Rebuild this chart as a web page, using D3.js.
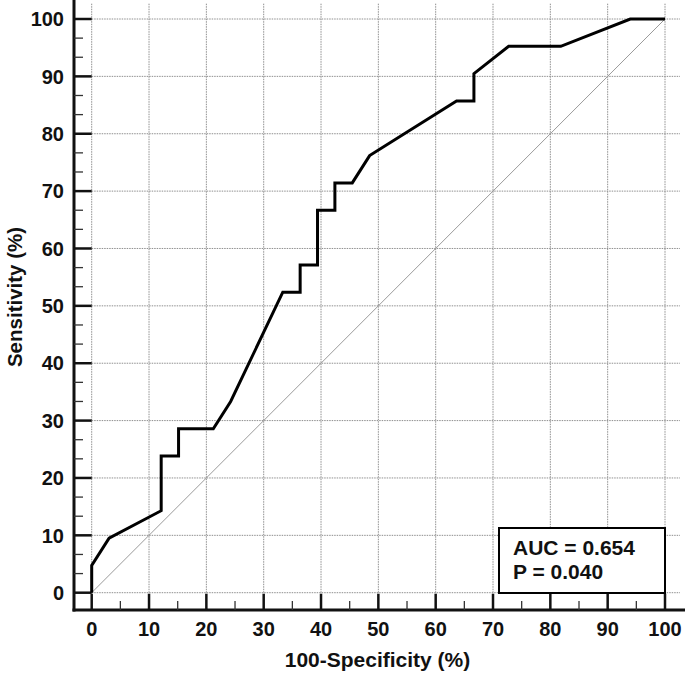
<!DOCTYPE html>
<html><head><meta charset="utf-8">
<script src="https://cdn.jsdelivr.net/npm/d3@7"></script>
<style>
html,body{margin:0;padding:0;background:#fff;}
svg text{font-family:"Liberation Sans",Arial,sans-serif;font-weight:bold;fill:#111;}
</style></head>
<body>
<svg id="c" width="685" height="674"></svg>
<script>
// ROC curve points: 100-Specificity (%) and Sensitivity (%)
const fpr = [0, 0, 3.03, 12.12, 12.12, 15.15, 15.15, 21.21, 24.24, 33.33, 36.36, 36.36, 39.39, 39.39, 42.42, 42.42, 45.45, 48.48, 63.64, 66.67, 66.67, 72.73, 81.82, 93.94, 100];
const tpr = [0, 4.76, 9.52, 14.29, 23.81, 23.81, 28.57, 28.57, 33.33, 52.38, 52.38, 57.14, 57.14, 66.67, 66.67, 71.43, 71.43, 76.19, 85.71, 85.71, 90.48, 95.24, 95.24, 100, 100];
const xTicks = [0, 10, 20, 30, 40, 50, 60, 70, 80, 90, 100];
const yTicks = [0, 10, 20, 30, 40, 50, 60, 70, 80, 90, 100];
const xTitle = "100-Specificity (%)";
const yTitle = "Sensitivity (%)";
const statLines = ["AUC = 0.654", "P = 0.040"];

const svg = d3.select("#c");
const x = d3.scaleLinear().domain([0, 100]).range([91.7, 665]);
const y = d3.scaleLinear().domain([0, 100]).range([592.7, 19]);
const xMaxPx = 680, yMinPx = 3;
const axisX = 74, axisY = 610;

// grid
const g = svg.append("g");
yTicks.forEach(v => g.append("line")
  .attr("x1", x(0)).attr("x2", xMaxPx).attr("y1", y(v)).attr("y2", y(v))
  .attr("stroke", "#8f8f8f").attr("stroke-width", 1).attr("stroke-dasharray", "1.5,1"));
xTicks.forEach(v => g.append("line")
  .attr("x1", x(v)).attr("x2", x(v)).attr("y1", y(0)).attr("y2", yMinPx)
  .attr("stroke", "#8f8f8f").attr("stroke-width", 1).attr("stroke-dasharray", "1.5,1"));

// diagonal
svg.append("line").attr("x1", x(0)).attr("y1", y(0)).attr("x2", x(100)).attr("y2", y(100))
  .attr("stroke", "#9a9a9a").attr("stroke-width", 1);

// axes lines
svg.append("line").attr("x1", axisX).attr("x2", axisX).attr("y1", 0).attr("y2", axisY + 1.5)
  .attr("stroke", "#111").attr("stroke-width", 3);
svg.append("line").attr("x1", axisX - 1.5).attr("x2", 685).attr("y1", axisY).attr("y2", axisY)
  .attr("stroke", "#111").attr("stroke-width", 3);

// y ticks
yTicks.forEach(v => {
  svg.append("line").attr("x1", axisX).attr("x2", x(0)).attr("y1", y(v)).attr("y2", y(v))
    .attr("stroke", "#111").attr("stroke-width", 2.5);
  svg.append("text").attr("x", 64).attr("y", y(v)).attr("dy", "0.36em")
    .attr("text-anchor", "end").attr("font-size", 20).text(v);
});
d3.range(0, 100.01, 10 / 3).forEach(v => {
  if (Math.abs(v / 10 - Math.round(v / 10)) < 1e-6) return;
  svg.append("line").attr("x1", axisX).attr("x2", axisX + 9).attr("y1", y(v)).attr("y2", y(v))
    .attr("stroke", "#333").attr("stroke-width", 1.3);
});
// x ticks
xTicks.forEach(v => {
  svg.append("line").attr("x1", x(v)).attr("x2", x(v)).attr("y1", axisY).attr("y2", y(0) + 1)
    .attr("stroke", "#111").attr("stroke-width", 2.5);
  svg.append("text").attr("x", x(v)).attr("y", 636)
    .attr("text-anchor", "middle").attr("font-size", 20).text(v);
});
d3.range(5, 100, 10).forEach(v => {
  svg.append("line").attr("x1", x(v)).attr("x2", x(v)).attr("y1", axisY).attr("y2", axisY - 9)
    .attr("stroke", "#333").attr("stroke-width", 1.3);
});

// titles
svg.append("text").attr("x", 377.5).attr("y", 667).attr("text-anchor", "middle")
  .attr("font-size", 21).text(xTitle);
svg.append("text").attr("transform", "translate(22,297) rotate(-90)").attr("text-anchor", "middle")
  .attr("font-size", 20.5).text(yTitle);

// ROC curve
const pts = fpr.map((v, i) => [v, tpr[i]]);
svg.append("path").datum(pts)
  .attr("d", d3.line().x(d => x(d[0])).y(d => y(d[1])))
  .attr("fill", "none").attr("stroke", "#000").attr("stroke-width", 3).attr("stroke-linejoin", "miter");

// stats box
svg.append("rect").attr("x", 499).attr("y", 528).attr("width", 166).attr("height", 65)
  .attr("fill", "#fff").attr("stroke", "#000").attr("stroke-width", 2);
statLines.forEach((t, i) => svg.append("text").attr("x", 513).attr("y", 554.5 + i * 24)
  .attr("font-size", 21).text(t));
</script>
</body></html>
